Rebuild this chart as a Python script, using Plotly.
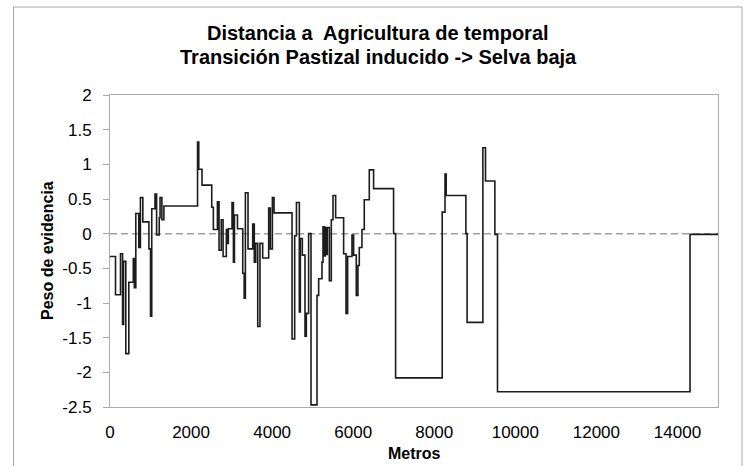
import plotly.graph_objects as go

# ---- data ----
distancia_m = [0, 136, 259, 310, 335, 390, 464, 575, 600, 637, 711, 750, 810, 960, 1000,
               1030, 1110, 1150, 1215, 1235, 1280, 1330, 2160, 2190, 2270, 2510, 2550,
               2650, 2690, 2745, 2790, 2870, 2890, 2920, 3010, 3045, 3070, 3145, 3275,
               3310, 3340, 3405, 3520, 3560, 3595, 3645, 3700, 3767, 3915, 3956, 4006,
               4047, 4491, 4556, 4600, 4671, 4696, 4745, 4811, 4844, 4900, 4959, 5107,
               5148, 5230, 5255, 5290, 5310, 5340, 5360, 5411, 5460, 5502, 5567, 5764,
               5822, 5863, 5970, 6010, 6076, 6117, 6150, 6216, 6273, 6397, 6503, 6996,
               7046, 8196, 8265, 8295, 8780, 8810, 9199, 9264, 9495, 9560, 14310, 15000]
peso_evidencia = [-0.33, -0.88, -0.29, -1.31, -0.40, -1.73, -0.70, -0.36, -0.78, 0.29,
                  -0.20, 0.52, 0.17, -0.22, -1.19, 0.36, 0.57, -0.02, 0.23, 0.52, 0.20,
                  0.40, 1.32, 0.93, 0.70, 0.38, 0.06, 0.46, -0.24, 0.20, -0.33, 0.06,
                  -0.14, 0.07, 0.45, -0.41, 0.27, 0.07, -0.57, -0.93, 0.59, -0.22, 0.14,
                  -0.41, -0.14, -1.34, -0.14, -0.35, 0.37, -0.22, 0.52, 0.30, -1.52,
                  -0.03, 0.45, -1.13, -0.07, -0.31, -1.48, -1.15, 0.00, -2.47, -0.89,
                  -0.65, -0.41, 0.10, -0.32, 0.09, -0.30, 0.09, -0.68, 0.20, 0.55, 0.23,
                  -0.29, -1.15, -0.33, -0.02, -0.31, -0.89, -0.46, -0.20, 0.06, 0.49,
                  0.92, 0.65, 0.00, -2.08, 0.31, 0.86, 0.55, 0.00, -1.28, 1.24, 0.76,
                  -0.01, -2.28, -0.01, -0.01]

x_ticks = [0, 2000, 4000, 6000, 8000, 10000, 12000, 14000]
x_ticklabels = ["0", "2000", "4000", "6000", "8000", "10000", "12000", "14000"]
y_ticks = [2, 1.5, 1, 0.5, 0, -0.5, -1, -1.5, -2, -2.5]
y_ticklabels = ["2", "1.5", "1", "0.5", "0", "-0.5", "-1", "-1.5", "-2", "-2.5"]

title_lines = ["Distancia a  Agricultura de temporal",
               "Transición Pastizal inducido -> Selva baja"]
x_title = "Metros"
y_title = "Peso de evidencia"

# ---- layout geometry (pixels) ----
W, H = 748, 466
L, R, T, B = 110, 718, 95, 407
pw, ph = R - L, B - T


def px_x(p):
    return (p - L) / pw


def px_y(p):
    return (B - p) / ph


FONT = "Liberation Sans, Arial, sans-serif"
AX = "#ABABAB"

fig = go.Figure()
fig.add_trace(go.Scatter(
    x=distancia_m, y=peso_evidencia, mode="lines",
    line=dict(shape="hv", color="#1c1c1c", width=1.6),
    showlegend=False, hoverinfo="x+y"))

fig.update_layout(
    width=W, height=H,
    margin=dict(l=L, r=W - R, t=T, b=H - B, pad=0),
    paper_bgcolor="white", plot_bgcolor="white",
    font=dict(family=FONT, color="#000000"),
    showlegend=False,
    xaxis=dict(range=[0, 15000], tickvals=x_ticks, ticktext=x_ticklabels,
               showgrid=False, zeroline=False, showline=True, mirror=True,
               linecolor=AX, linewidth=1, ticks="", ticklabelstandoff=10,
               tickfont=dict(size=17, family=FONT, color="#000")),
    yaxis=dict(range=[-2.5, 2], tickvals=y_ticks, ticktext=y_ticklabels,
               showgrid=False, zeroline=False, showline=True, mirror=True,
               linecolor=AX, linewidth=1, ticks="outside", ticklen=6,
               tickcolor=AX, ticklabelstandoff=8,
               tickfont=dict(size=17, family=FONT, color="#000")),
    shapes=[
        dict(type="line", xref="paper", yref="y", x0=0, x1=1, y0=0, y1=0,
             line=dict(color="#A0A0A0", width=1.5, dash="7px,4px"), layer="below"),
        dict(type="rect", xref="paper", yref="paper",
             x0=px_x(13.5), x1=px_x(742), y0=px_y(7), y1=px_y(470),
             line=dict(color="#A8A8A8", width=1), layer="below"),
    ],
    annotations=[
        dict(text="<b>" + title_lines[0] + "</b>", xref="paper", yref="paper",
             x=px_x(378), y=px_y(33), xanchor="center", yanchor="middle",
             showarrow=False, font=dict(size=20, family=FONT, color="#000")),
        dict(text="<b>" + title_lines[1] + "</b>", xref="paper", yref="paper",
             x=px_x(378), y=px_y(57), xanchor="center", yanchor="middle",
             showarrow=False, font=dict(size=20, family=FONT, color="#000")),
        dict(text="<b>" + y_title + "</b>", xref="paper", yref="paper",
             x=px_x(47), y=px_y(251), xanchor="center", yanchor="middle",
             textangle=-90, showarrow=False,
             font=dict(size=16, family=FONT, color="#000")),
        dict(text="<b>" + x_title + "</b>", xref="paper", yref="paper",
             x=px_x(414), y=px_y(453), xanchor="center", yanchor="middle",
             showarrow=False, font=dict(size=16, family=FONT, color="#000")),
    ],
)

fig.write_html("out.html")
